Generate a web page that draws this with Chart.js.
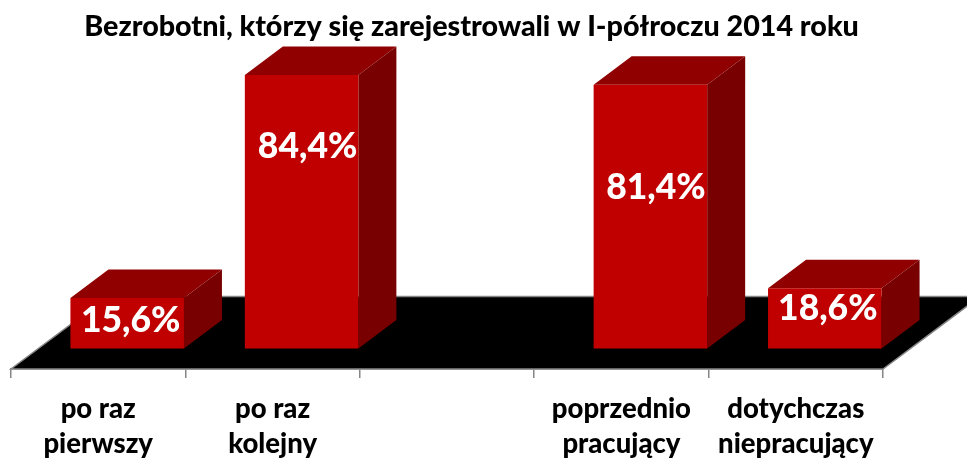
<!DOCTYPE html>
<html lang="pl">
<head>
<meta charset="utf-8">
<style>html,body{margin:0;padding:0;background:#fff}#w{width:967px;height:459px}</style>
<script src="https://cdn.jsdelivr.net/npm/chart.js@4"></script>
</head>
<body>
<div id="w"><canvas id="c"></canvas></div>
<script>
const titleText = 'Bezrobotni, którzy się zarejestrowali w I-półroczu 2014 roku';
const categories = [['po raz','pierwszy'],['po raz','kolejny'],'',['poprzednio','pracujący'],['dotychczas','niepracujący']];
const shareValues = [15.6, 84.4, null, 81.4, 18.6];
const valueLabels = ['15,6%','84,4%','','81,4%','18,6%'];

const FONT = 'Lato, Carlito, sans-serif';
const barDepth = {x: 38, y: 28.5};
const floorDepth = {x: 97, y: 72.5};
const barShift = 29;
const labelLift = [0.56, 0.74, 0, 0.61, 0.67];
const labelNudge = [3.5, 6, 0, 5.5, 3];

const scene3d = {
  id: 'scene3d',
  afterLayout(chart) {
    chart.titleBlock.right += 49;
  },
  afterDatasetsUpdate(chart) {
    chart.getDatasetMeta(0).data.forEach(el => { el.x += barShift; });
  },
  beforeDatasetsDraw(chart) {
    const {ctx, scales: {x, y}} = chart;
    const L = x.left, R = x.right, B = y.bottom;
    ctx.save();
    ctx.beginPath();
    ctx.moveTo(L, B);
    ctx.lineTo(R, B);
    ctx.lineTo(R + floorDepth.x, B - floorDepth.y);
    ctx.lineTo(L + floorDepth.x, B - floorDepth.y);
    ctx.closePath();
    ctx.fillStyle = '#000';
    ctx.fill();
    ctx.strokeStyle = '#868686';
    ctx.lineWidth = 1.5;
    ctx.stroke();
    chart.getDatasetMeta(0).data.forEach((el, i) => {
      if (shareValues[i] === null) return;
      const l = el.x - el.width / 2, r = el.x + el.width / 2, t = el.y, b = el.base;
      const dx = barDepth.x, dy = barDepth.y;
      ctx.beginPath();
      ctx.moveTo(l, t); ctx.lineTo(l + dx, t - dy); ctx.lineTo(r + dx, t - dy); ctx.lineTo(r, t);
      ctx.closePath();
      ctx.fillStyle = '#900000';
      ctx.fill();
      ctx.beginPath();
      ctx.moveTo(r, t); ctx.lineTo(r + dx, t - dy); ctx.lineTo(r + dx, b - dy); ctx.lineTo(r, b);
      ctx.closePath();
      ctx.fillStyle = '#780000';
      ctx.fill();
    });
    ctx.restore();
  },
  afterDatasetsDraw(chart) {
    const {ctx} = chart;
    ctx.save();
    ctx.font = '900 35.5px ' + FONT;
    ctx.fillStyle = '#fff';
    ctx.textAlign = 'center';
    ctx.textBaseline = 'middle';
    chart.getDatasetMeta(0).data.forEach((el, i) => {
      if (shareValues[i] === null) return;
      const py = el.base - (el.base - el.y) * labelLift[i];
      ctx.fillText(valueLabels[i], el.x + labelNudge[i], py);
    });
    ctx.restore();
  }
};

new Chart(document.getElementById('c'), {
  type: 'bar',
  plugins: [scene3d],
  data: {
    labels: categories,
    datasets: [{
      label: 'Udział',
      data: shareValues,
      backgroundColor: '#C00000',
      borderWidth: 0,
      categoryPercentage: 1,
      barPercentage: 0.651
    }]
  },
  options: {
    responsive: true,
    maintainAspectRatio: false,
    animation: false,
    layout: {padding: {left: 11, right: 84, top: 0, bottom: 0}},
    plugins: {
      legend: {display: false},
      tooltip: {enabled: false},
      title: {
        display: true,
        text: titleText,
        color: '#000',
        font: {family: FONT, size: 28.7, weight: '900', lineHeight: 1.2},
        padding: {top: 10, bottom: 0.56}
      }
    },
    scales: {
      x: {
        afterFit(s) { s.height = 90; },
        border: {color: '#868686', width: 1.5},
        grid: {display: true, drawOnChartArea: false, drawTicks: true, tickLength: 9, color: '#868686', lineWidth: 1.5},
        ticks: {
          autoSkip: false, maxRotation: 0, minRotation: 0, padding: 14, color: '#000',
          font: {family: FONT, size: 27.5, weight: '900', lineHeight: 35 / 27.5}
        }
      },
      y: {display: false, min: -6.33, max: 93.7}
    }
  }
});
</script>
</body>
</html>
